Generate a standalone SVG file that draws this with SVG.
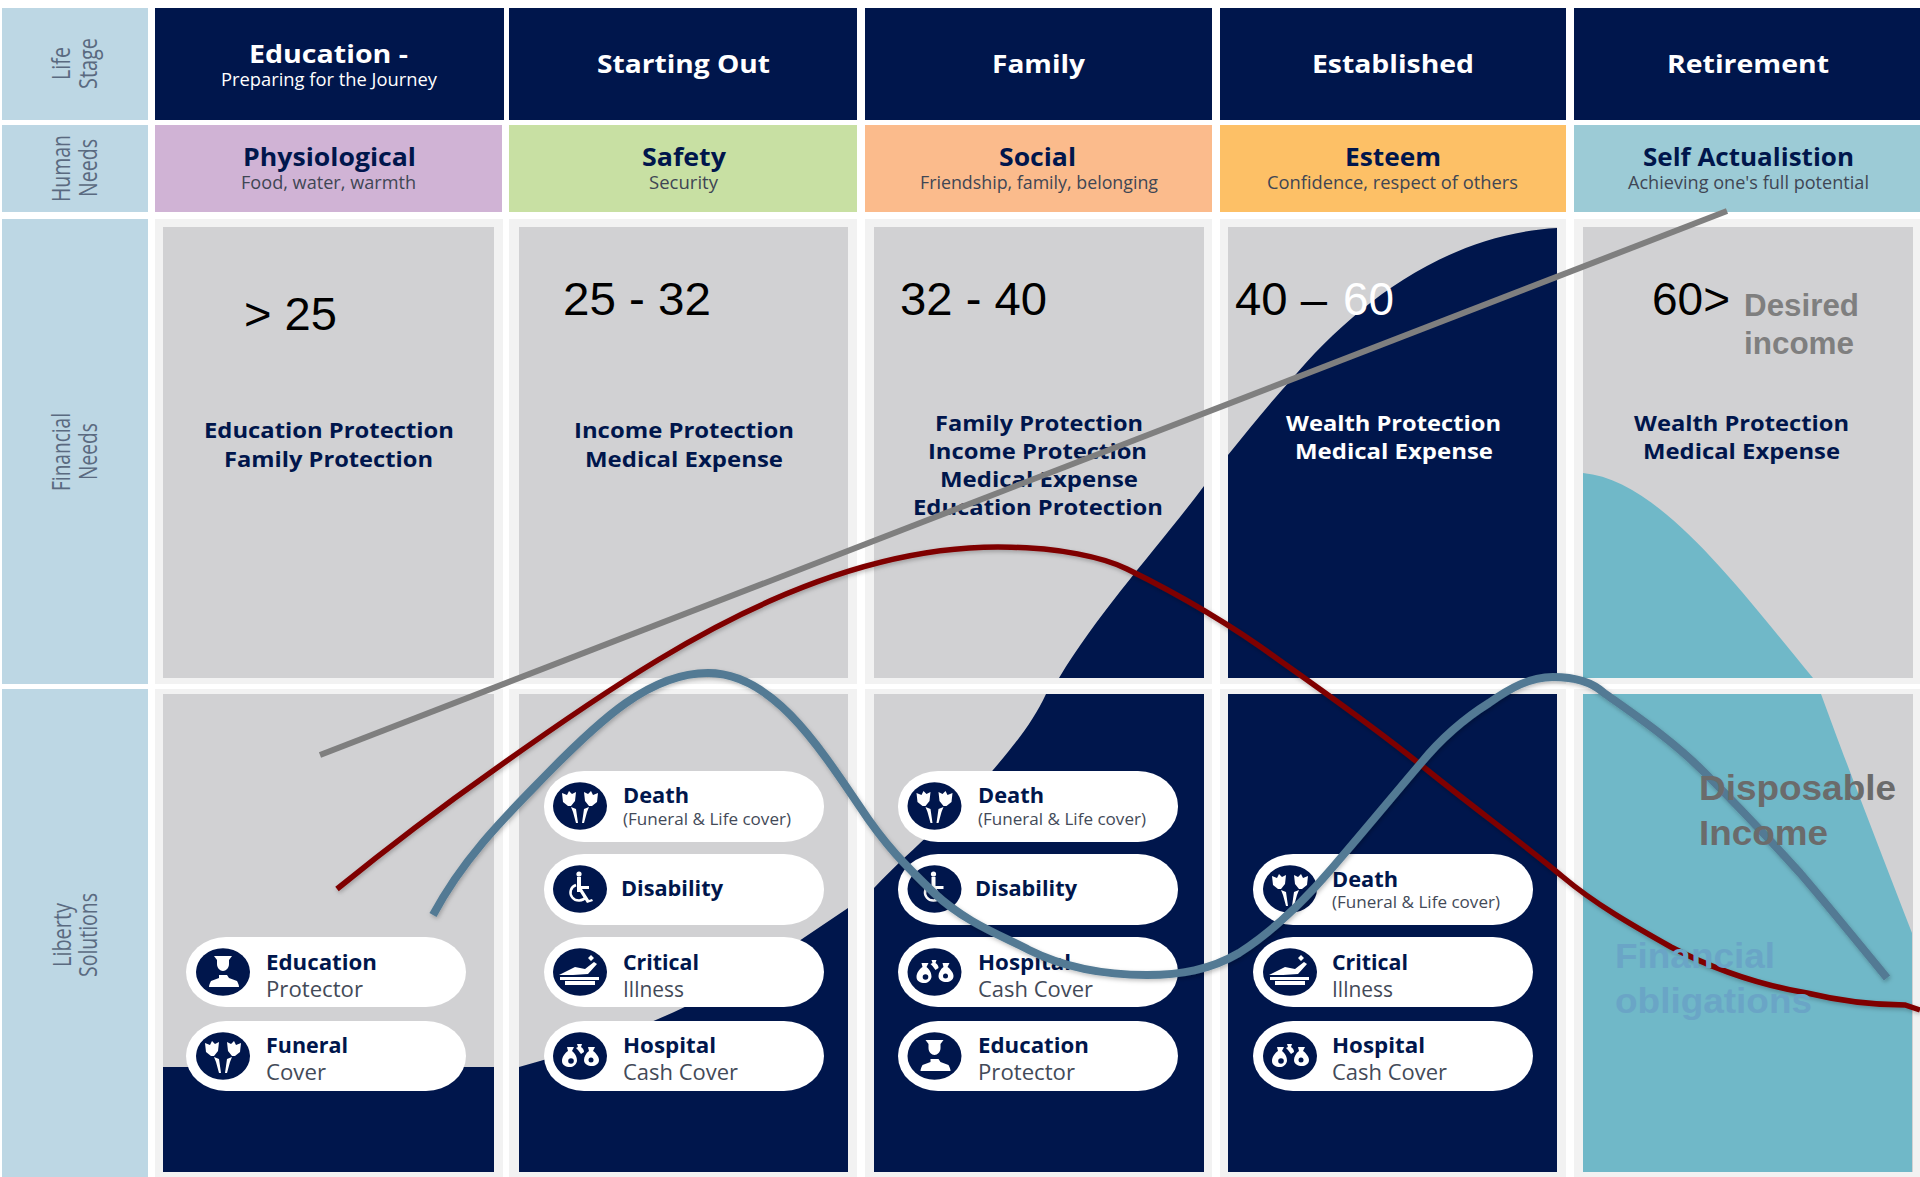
<svg xmlns="http://www.w3.org/2000/svg" xmlns:xlink="http://www.w3.org/1999/xlink" width="1920" height="1177" viewBox="0 0 1920 1177">
<style>
text{font-family:"Open Sans","Liberation Sans",sans-serif}
.side{fill:#bdd7e4}
.hd{fill:#00164c}
.panel{fill:#f2f2f2}
.cell{fill:#d1d1d3}
.navy{fill:#00164c}
.teal{fill:#70b8c8}
.pill{fill:#fff}
.t1{font-size:25px;font-weight:700;fill:#fff}
.t2{font-size:17.5px;fill:#fff}
.n1{font-size:25px;font-weight:700;fill:#00164c}
.n2{font-size:17.5px;fill:#3f4654}
.rl{font-size:25px;fill:#5a6a80}
.fn{font-size:22px;font-weight:700;fill:#00164c}
.fw{font-size:22px;font-weight:700;fill:#fff}
.pb{font-size:21px;font-weight:700;fill:#00164c}
.ps{font-size:21px;fill:#434a58}
.ps2{font-size:17px;fill:#434a58}
.age{font-family:"Liberation Sans",Arial,sans-serif;font-size:47px;fill:#000}
.lab{font-family:"Liberation Sans",Arial,sans-serif;font-size:35px;font-weight:700}
.des{font-family:"Liberation Sans",Arial,sans-serif;font-size:31px;font-weight:700;fill:#7f7f7f}
.ico{fill:#00164c}
.w{fill:#fff}
.wl{fill:none;stroke:#fff;stroke-width:2.5}
.line{fill:none}
</style>
<defs>
<filter id="sh" x="-5%" y="-5%" width="110%" height="110%"><feDropShadow dx="1" dy="2" stdDeviation="2" flood-color="#000" flood-opacity="0.25"/></filter>
<g id="i-death"><ellipse class="ico" rx="27" ry="23.7"/>
<path class="w" d="M-18 -13l5 2 2-4 3 3 4-2 -1 9 -4 5 -3 0 -5-4z"/><path class="w" d="M-9 1l5 2 2 14h-2l-3-11z"/><path class="w" d="M18 -13l-5 2 -2-4 -3 3 -4-2 1 9 4 5 3 0 5-4z"/><path class="w" d="M9 1l-5 2 -2 14h2l3-11z"/></g>
<g id="i-dis"><ellipse class="ico" rx="27" ry="23.7"/>
<circle class="w" cx="-1" cy="-15" r="2.6"/><path class="w" d="M-3 -12h4v9h8v3h-7l7 11 3-1 1 2-6 2-7-11h-3z"/><path class="wl" d="M-4 -4a8.500 8 0 1 0 10 12"/></g>
<g id="i-crit"><ellipse class="ico" rx="27" ry="23.7"/>
<path class="w" d="M-21 3l16-8 10 2 9-7 3 2-9 10-15 1h-14zM8 -14l3-3 3 3-3 3zM-20 5h39v3h-39zM-15 9h30v4h-30z"/></g>
<g id="i-hosp"><ellipse class="ico" rx="27" ry="23.7"/>
<path class="w" d="M-13 -9h7l-2 4c4 3 5 7 5 10 -1 4-4 6-7 6 -4 0-8-2-8-6 0-4 3-8 6-10z"/><path class="w" d="M8 -9h7l-2 4c3 2 6 6 6 9 0 4-4 6-7 6 -4 0-8-2-8-6 0-3 2-7 5-9z"/><path class="w" d="M-3 -12h5l-1 3c2 1 3 3 3 5l-3 2 -3-4 -2-2 2-1z"/><circle class="ico" cx="-9" cy="5" r="2.800"/><circle class="ico" cx="11" cy="4" r="2.500"/></g>
<g id="i-edu"><ellipse class="ico" rx="27" ry="23.700"/>
<path class="w" d="M-9 -16h18l-3 4v4c0 4-3 7-6 7s-6-3-6-7v-4zM-4 3h8l2 3 8 3c1 2 2 4 2 6h-30c0-2 1-4 2-6l8-3z"/></g>
</defs>

<g id="row-labels">
<rect class="side" x="2" y="8" width="146" height="112"/>
<rect class="side" x="2" y="125" width="146" height="87"/>
<rect class="side" x="2" y="219" width="146" height="465"/>
<rect class="side" x="2" y="689" width="146" height="488"/>
<text class="rl" x="70" y="80" transform="rotate(-90 70 80)" textLength="33" lengthAdjust="spacingAndGlyphs">Life</text>
<text class="rl" x="97" y="89" transform="rotate(-90 97 89)" textLength="51" lengthAdjust="spacingAndGlyphs">Stage</text>
<text class="rl" x="70" y="202" transform="rotate(-90 70 202)" textLength="67" lengthAdjust="spacingAndGlyphs">Human</text>
<text class="rl" x="97" y="197" transform="rotate(-90 97 197)" textLength="58" lengthAdjust="spacingAndGlyphs">Needs</text>
<text class="rl" x="70" y="491" transform="rotate(-90 70 491)" textLength="78" lengthAdjust="spacingAndGlyphs">Financial</text>
<text class="rl" x="97" y="480" transform="rotate(-90 97 480)" textLength="57" lengthAdjust="spacingAndGlyphs">Needs</text>
<text class="rl" x="71" y="967" transform="rotate(-90 71 967)" textLength="64" lengthAdjust="spacingAndGlyphs">Liberty</text>
<text class="rl" x="97" y="977" transform="rotate(-90 97 977)" textLength="84" lengthAdjust="spacingAndGlyphs">Solutions</text>
</g>

<g id="life-stage">
<rect class="hd" x="155" y="8" width="349" height="112"/>
<rect class="hd" x="509" y="8" width="348" height="112"/>
<rect class="hd" x="865" y="8" width="347" height="112"/>
<rect class="hd" x="1220" y="8" width="346" height="112"/>
<rect class="hd" x="1574" y="8" width="346" height="112"/>
<text class="t1" x="249" y="63" textLength="159" lengthAdjust="spacingAndGlyphs">Education -</text>
<text class="t2" x="221" y="86" textLength="216" lengthAdjust="spacingAndGlyphs">Preparing for the Journey</text>
<text class="t1" x="597" y="73" textLength="173" lengthAdjust="spacingAndGlyphs">Starting Out</text>
<text class="t1" x="992" y="73" textLength="93" lengthAdjust="spacingAndGlyphs">Family</text>
<text class="t1" x="1312" y="73" textLength="162" lengthAdjust="spacingAndGlyphs">Established</text>
<text class="t1" x="1667" y="73" textLength="162" lengthAdjust="spacingAndGlyphs">Retirement</text>
</g>

<g id="human-needs">
<rect x="155" y="125" width="347" height="87" fill="#d0b3d5"/>
<rect x="509" y="125" width="348" height="87" fill="#c8e0a3"/>
<rect x="865" y="125" width="347" height="87" fill="#fbbb8c"/>
<rect x="1220" y="125" width="346" height="87" fill="#fdc066"/>
<rect x="1574" y="125" width="346" height="87" fill="#9ccbd6"/>
<text class="n1" x="243" y="166" textLength="173" lengthAdjust="spacingAndGlyphs">Physiological</text>
<text class="n2" x="241" y="189" textLength="175" lengthAdjust="spacingAndGlyphs">Food, water, warmth</text>
<text class="n1" x="642" y="166" textLength="84" lengthAdjust="spacingAndGlyphs">Safety</text>
<text class="n2" x="649" y="189" textLength="69" lengthAdjust="spacingAndGlyphs">Security</text>
<text class="n1" x="999" y="166" textLength="77" lengthAdjust="spacingAndGlyphs">Social</text>
<text class="n2" x="920" y="189" textLength="238" lengthAdjust="spacingAndGlyphs">Friendship, family, belonging</text>
<text class="n1" x="1345" y="166" textLength="96" lengthAdjust="spacingAndGlyphs">Esteem</text>
<text class="n2" x="1267" y="189" textLength="251" lengthAdjust="spacingAndGlyphs">Confidence, respect of others</text>
<text class="n1" x="1643" y="166" textLength="211" lengthAdjust="spacingAndGlyphs">Self Actualistion</text>
<text class="n2" x="1628" y="189" textLength="241" lengthAdjust="spacingAndGlyphs">Achieving one's full potential</text>
</g>

<g id="panels">
<rect class="panel" x="155" y="219" width="348" height="465"/>
<rect class="panel" x="509" y="219" width="348" height="465"/>
<rect class="panel" x="865" y="219" width="347" height="465"/>
<rect class="panel" x="1220" y="219" width="346" height="465"/>
<rect class="panel" x="1574" y="219" width="346" height="465"/>
<rect class="panel" x="155" y="689" width="348" height="488"/>
<rect class="panel" x="509" y="689" width="348" height="488"/>
<rect class="panel" x="865" y="689" width="347" height="488"/>
<rect class="panel" x="1220" y="689" width="346" height="488"/>
<rect class="panel" x="1574" y="689" width="346" height="488"/>
<rect class="cell" x="163" y="227" width="331" height="451"/>
<rect class="cell" x="519" y="227" width="329" height="451"/>
<rect class="cell" x="874" y="227" width="330" height="451"/>
<rect class="cell" x="1228" y="227" width="329" height="451"/>
<rect class="cell" x="1583" y="227" width="330" height="451"/>
<rect class="cell" x="163" y="694" width="331" height="478"/>
<rect class="cell" x="519" y="694" width="329" height="478"/>
<rect class="cell" x="874" y="694" width="330" height="478"/>
<rect class="cell" x="1228" y="694" width="329" height="478"/>
<rect class="cell" x="1583" y="694" width="330" height="478"/>
</g>

<g id="areas">
<path class="navy" d="M163 1067H494V1172H163Z"/>
<path class="navy" d="M519 1067C600 1045 700 1010 802 939L848 908V1172H519Z"/>
<path class="navy" d="M874 888C915 845 960 810 993 770C1015 744 1033 722 1046 694H1204V1172H874Z"/>
<path class="navy" d="M1059 678C1100 610 1160 545 1204 486V678Z"/>
<path class="navy" d="M1228 455C1250 428 1268 405 1291 380C1350 310 1440 235 1557 228V678H1228Z"/>
<path class="navy" d="M1228 694H1557V1172H1228Z"/>
<path class="teal" d="M1583 473C1660 480 1740 590 1813 678H1583Z"/>
<path class="teal" d="M1583 694H1821C1845 760 1880 850 1912 933V1172H1583Z"/>
</g>

<g id="financial-needs">
<text class="fn" x="204" y="438" textLength="250" lengthAdjust="spacingAndGlyphs">Education Protection</text>
<text class="fn" x="224" y="467" textLength="209" lengthAdjust="spacingAndGlyphs">Family Protection</text>
<text class="fn" x="574" y="438" textLength="220" lengthAdjust="spacingAndGlyphs">Income Protection</text>
<text class="fn" x="585" y="467" textLength="198" lengthAdjust="spacingAndGlyphs">Medical Expense</text>
<text class="fn" x="935" y="431" textLength="208" lengthAdjust="spacingAndGlyphs">Family Protection</text>
<text class="fn" x="928" y="459" textLength="219" lengthAdjust="spacingAndGlyphs">Income Protection</text>
<text class="fn" x="940" y="487" textLength="198" lengthAdjust="spacingAndGlyphs">Medical Expense</text>
<text class="fn" x="913" y="515" textLength="250" lengthAdjust="spacingAndGlyphs">Education Protection</text>
<text class="fw" x="1286" y="431" textLength="215" lengthAdjust="spacingAndGlyphs">Wealth Protection</text>
<text class="fw" x="1295" y="459" textLength="198" lengthAdjust="spacingAndGlyphs">Medical Expense</text>
<text class="fn" x="1634" y="431" textLength="215" lengthAdjust="spacingAndGlyphs">Wealth Protection</text>
<text class="fn" x="1643" y="459" textLength="197" lengthAdjust="spacingAndGlyphs">Medical Expense</text>
</g>

<g id="ages">
<text class="age" x="244" y="330" textLength="93" lengthAdjust="spacingAndGlyphs">&gt; 25</text>
<text class="age" x="563" y="315" textLength="148" lengthAdjust="spacingAndGlyphs">25 - 32</text>
<text class="age" x="900" y="315" textLength="147" lengthAdjust="spacingAndGlyphs">32 - 40</text>
<text class="age" x="1235" y="315" textLength="92" lengthAdjust="spacingAndGlyphs">40 –</text>
<text class="age" x="1343" y="315" textLength="51" lengthAdjust="spacingAndGlyphs" style="fill:#fff">60</text>
<text class="age" x="1652" y="315" textLength="78" lengthAdjust="spacingAndGlyphs">60&gt;</text>
<text class="des" x="1744" y="316" textLength="115" lengthAdjust="spacingAndGlyphs">Desired</text>
<text class="des" x="1744" y="354" textLength="110" lengthAdjust="spacingAndGlyphs">income</text>
</g>

<g id="col1-education"><rect class="pill" x="186" y="937" width="280" height="70" rx="40" ry="35"/><use href="#i-edu" x="223" y="972"/>
<text class="pb" x="266" y="970" textLength="111" lengthAdjust="spacingAndGlyphs">Education</text><text class="ps" x="266" y="997" textLength="97" lengthAdjust="spacingAndGlyphs">Protector</text></g>
<g id="col1-funeral"><rect class="pill" x="186" y="1021" width="280" height="70" rx="40" ry="35"/><use href="#i-death" x="223" y="1056"/>
<text class="pb" x="266" y="1053" textLength="82" lengthAdjust="spacingAndGlyphs">Funeral</text><text class="ps" x="266" y="1080" textLength="60" lengthAdjust="spacingAndGlyphs">Cover</text></g>

<g id="col2-death"><rect class="pill" x="544" y="771" width="280" height="71" rx="40" ry="35"/><use href="#i-death" x="580" y="806"/>
<text class="pb" x="623" y="803" textLength="66" lengthAdjust="spacingAndGlyphs">Death</text><text class="ps2" x="623" y="825" textLength="168" lengthAdjust="spacingAndGlyphs">(Funeral &amp; Life cover)</text></g>
<g id="col2-disability"><rect class="pill" x="544" y="854" width="280" height="71" rx="40" ry="35"/><use href="#i-dis" x="580" y="889"/>
<text class="pb" x="621" y="896" textLength="102" lengthAdjust="spacingAndGlyphs">Disability</text></g>
<g id="col2-critical"><rect class="pill" x="544" y="937" width="280" height="70" rx="40" ry="35"/><use href="#i-crit" x="580" y="972"/>
<text class="pb" x="623" y="970" textLength="76" lengthAdjust="spacingAndGlyphs">Critical</text><text class="ps" x="623" y="997" textLength="61" lengthAdjust="spacingAndGlyphs">Illness</text></g>
<g id="col2-hospital"><rect class="pill" x="544" y="1021" width="280" height="70" rx="40" ry="35"/><use href="#i-hosp" x="580" y="1056"/>
<text class="pb" x="623" y="1053" textLength="93" lengthAdjust="spacingAndGlyphs">Hospital</text><text class="ps" x="623" y="1080" textLength="115" lengthAdjust="spacingAndGlyphs">Cash Cover</text></g>

<g id="col3-death"><rect class="pill" x="898" y="771" width="280" height="71" rx="40" ry="35"/><use href="#i-death" x="934.500" y="806"/>
<text class="pb" x="978" y="803" textLength="66" lengthAdjust="spacingAndGlyphs">Death</text><text class="ps2" x="978" y="825" textLength="168" lengthAdjust="spacingAndGlyphs">(Funeral &amp; Life cover)</text></g>
<g id="col3-disability"><rect class="pill" x="898" y="854" width="280" height="71" rx="40" ry="35"/><use href="#i-dis" x="934.500" y="889"/>
<text class="pb" x="975" y="896" textLength="102" lengthAdjust="spacingAndGlyphs">Disability</text></g>
<g id="col3-hospital"><rect class="pill" x="898" y="937" width="280" height="70" rx="40" ry="35"/><use href="#i-hosp" x="934.500" y="972"/>
<text class="pb" x="978" y="970" textLength="93" lengthAdjust="spacingAndGlyphs">Hospital</text><text class="ps" x="978" y="997" textLength="115" lengthAdjust="spacingAndGlyphs">Cash Cover</text></g>
<g id="col3-education"><rect class="pill" x="898" y="1021" width="280" height="70" rx="40" ry="35"/><use href="#i-edu" x="934.500" y="1056"/>
<text class="pb" x="978" y="1053" textLength="111" lengthAdjust="spacingAndGlyphs">Education</text><text class="ps" x="978" y="1080" textLength="97" lengthAdjust="spacingAndGlyphs">Protector</text></g>

<g id="col4-death"><rect class="pill" x="1253" y="854" width="280" height="71" rx="40" ry="35"/><use href="#i-death" x="1290" y="889"/>
<text class="pb" x="1332" y="887" textLength="66" lengthAdjust="spacingAndGlyphs">Death</text><text class="ps2" x="1332" y="908" textLength="168" lengthAdjust="spacingAndGlyphs">(Funeral &amp; Life cover)</text></g>
<g id="col4-critical"><rect class="pill" x="1253" y="937" width="280" height="70" rx="40" ry="35"/><use href="#i-crit" x="1290" y="972"/>
<text class="pb" x="1332" y="970" textLength="76" lengthAdjust="spacingAndGlyphs">Critical</text><text class="ps" x="1332" y="997" textLength="61" lengthAdjust="spacingAndGlyphs">Illness</text></g>
<g id="col4-hospital"><rect class="pill" x="1253" y="1021" width="280" height="70" rx="40" ry="35"/><use href="#i-hosp" x="1290" y="1056"/>
<text class="pb" x="1332" y="1053" textLength="93" lengthAdjust="spacingAndGlyphs">Hospital</text><text class="ps" x="1332" y="1080" textLength="115" lengthAdjust="spacingAndGlyphs">Cash Cover</text></g>

<g id="connectors">
<path class="line" d="M320 755L1727 211" stroke="#7f7f7f" stroke-width="6"/>
<path class="line" filter="url(#sh)" stroke="#7f0000" stroke-width="5.500" d="M337 889C385 850 440 808 494 770C550 730 600 695 658 660C760 598 880 547 998 547C1060 547 1105 558 1127 569C1180 595 1230 624 1279 660C1330 696 1375 728 1421 765C1470 805 1525 845 1563 877C1595 904 1632 925 1671 947C1715 970 1760 985 1807 993C1840 1001 1870 1005 1905 1005L1920 1010"/>
<path class="line" filter="url(#sh)" stroke="#527a94" stroke-width="8" d="M433 915C465 855 510 812 548 773C600 720 650 673 708 673C770 673 815 740 860 807C885 845 905 865 934 893C965 922 1000 935 1029 950C1065 968 1105 975 1147 975C1180 975 1210 970 1239 953C1275 930 1305 900 1333 867C1365 830 1392 797 1421 763C1440 740 1465 718 1489 703C1510 688 1530 677 1553 677C1575 677 1592 682 1604 693C1635 715 1672 740 1705 773C1740 808 1770 840 1800 873C1830 908 1860 945 1887 978"/>
</g>

<g id="chart-labels">
<text class="lab" x="1699" y="800" textLength="197" lengthAdjust="spacingAndGlyphs" fill="#6b6b6b">Disposable</text>
<text class="lab" x="1699" y="845" textLength="129" lengthAdjust="spacingAndGlyphs" fill="#6b6b6b">Income</text>
<text class="lab" x="1615" y="968" textLength="160" lengthAdjust="spacingAndGlyphs" fill="#6aa5c6">Financial</text>
<text class="lab" x="1615" y="1013" textLength="197" lengthAdjust="spacingAndGlyphs" fill="#6aa5c6">obligations</text>
</g>
</svg>
